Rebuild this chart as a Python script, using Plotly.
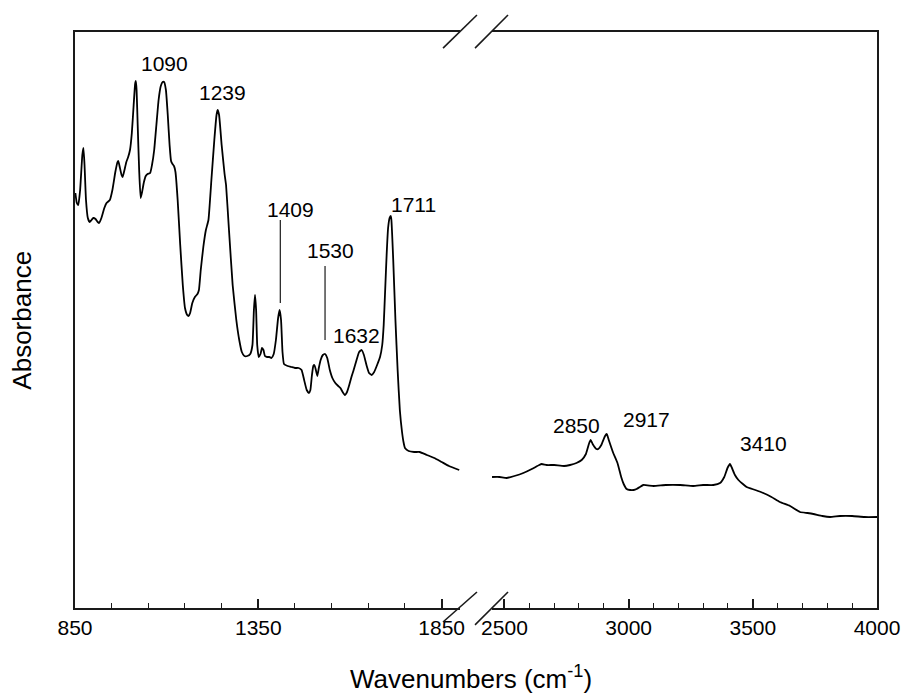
import plotly.graph_objects as go

# FTIR spectrum, fingerprint / carbonyl region (cm-1) and absorbance (a.u.)
wn_low = [851, 855, 859, 864, 870, 873, 876, 880, 885, 890, 895, 900, 906, 912, 916,
          922, 930, 936, 945, 952, 960, 966, 968, 972, 977, 980, 985, 990, 995, 1000,
          1005, 1010, 1014, 1016, 1018, 1021, 1025, 1029, 1033, 1038, 1043, 1048, 1055,
          1060, 1066, 1072, 1078, 1084, 1089, 1093, 1098, 1103, 1108, 1112, 1116, 1120,
          1124, 1130, 1137, 1144, 1150, 1156, 1160, 1164, 1170, 1177, 1184, 1188, 1193,
          1200, 1207, 1214, 1222, 1230, 1236, 1239, 1243, 1250, 1258, 1262, 1270, 1280,
          1290, 1298, 1305, 1312, 1320, 1328, 1334, 1338, 1341, 1344, 1347, 1351, 1356,
          1360, 1364, 1368, 1374, 1380, 1386, 1392, 1398, 1404, 1408, 1412, 1416, 1420,
          1430, 1440, 1450, 1460, 1468, 1475, 1482, 1488, 1492, 1496, 1500, 1503, 1507,
          1511, 1515, 1520, 1526, 1532, 1538, 1545, 1552, 1560, 1568, 1574, 1580, 1586,
          1592, 1598, 1604, 1610, 1618, 1625, 1632, 1638, 1645, 1652, 1659, 1666, 1674,
          1682, 1688, 1692, 1696, 1700, 1704, 1708, 1711, 1713, 1718, 1724, 1730, 1736,
          1742, 1746, 1750, 1760, 1775, 1790, 1810, 1830, 1850, 1870, 1898]
abs_low = [0.415, 0.405, 0.403, 0.418, 0.453, 0.460, 0.443, 0.408, 0.390, 0.386, 0.388,
           0.390, 0.389, 0.386, 0.385, 0.390, 0.400, 0.405, 0.408, 0.418, 0.436, 0.446,
           0.447, 0.441, 0.433, 0.431, 0.438, 0.446, 0.451, 0.458, 0.475, 0.503, 0.524,
           0.527, 0.518, 0.483, 0.438, 0.410, 0.416, 0.426, 0.432, 0.434, 0.435, 0.443,
           0.458, 0.483, 0.508, 0.522, 0.526, 0.526, 0.518, 0.493, 0.463, 0.447, 0.444,
           0.442, 0.436, 0.408, 0.363, 0.323, 0.300, 0.293, 0.292, 0.295, 0.305, 0.311,
           0.314, 0.318, 0.338, 0.361, 0.378, 0.388, 0.428, 0.468, 0.493, 0.498, 0.493,
           0.463, 0.434, 0.423, 0.378, 0.323, 0.288, 0.268, 0.256, 0.252, 0.252, 0.254,
           0.263, 0.298, 0.313, 0.298, 0.263, 0.251, 0.254, 0.260, 0.258, 0.252, 0.251,
           0.251, 0.250, 0.254, 0.268, 0.290, 0.298, 0.288, 0.256, 0.244, 0.242, 0.241,
           0.240, 0.240, 0.238, 0.228, 0.218, 0.215, 0.218, 0.232, 0.242, 0.243, 0.238,
           0.232, 0.240, 0.248, 0.253, 0.254, 0.250, 0.238, 0.230, 0.225, 0.222, 0.220,
           0.216, 0.213, 0.216, 0.223, 0.231, 0.238, 0.248, 0.256, 0.258, 0.253, 0.243,
           0.235, 0.233, 0.236, 0.243, 0.251, 0.263, 0.283, 0.318, 0.353, 0.380, 0.390,
           0.392, 0.388, 0.348, 0.288, 0.238, 0.198, 0.176, 0.166, 0.160, 0.157, 0.156,
           0.156, 0.153, 0.150, 0.146, 0.142, 0.138]

# C-H / O-H stretching region
wn_high = [2450, 2480, 2509, 2540, 2576, 2610, 2640, 2650, 2670, 2700, 2740, 2764, 2790,
           2811, 2828, 2840, 2847, 2855, 2870, 2878, 2890, 2905, 2912, 2920, 2938, 2955,
           2970, 2980, 2992, 3006, 3020, 3032, 3045, 3059, 3100, 3150, 3207, 3260, 3300,
           3341, 3368, 3385, 3398, 3408, 3416, 3428, 3442, 3460, 3475, 3510, 3542, 3575,
           3609, 3650, 3690, 3720, 3744, 3780, 3811, 3851, 3900, 3950, 4000]
abs_high = [0.131, 0.131, 0.130, 0.132, 0.135, 0.139, 0.143, 0.144, 0.143, 0.143, 0.142,
            0.143, 0.145, 0.148, 0.154, 0.164, 0.168, 0.164, 0.159, 0.159, 0.163, 0.172,
            0.174, 0.168, 0.155, 0.145, 0.131, 0.124, 0.119, 0.118, 0.118, 0.119, 0.121,
            0.123, 0.122, 0.123, 0.123, 0.122, 0.123, 0.123, 0.125, 0.131, 0.140, 0.144,
            0.140, 0.133, 0.128, 0.124, 0.121, 0.118, 0.115, 0.111, 0.106, 0.102, 0.096,
            0.095, 0.094, 0.092, 0.091, 0.092, 0.092, 0.091, 0.091]

# Peak labels: text, label position (wavenumber, absorbance), axis pair
peak_text = ["1090", "1239", "1409", "1530", "1632", "1711", "2850", "2917", "3410"]
peak_lx = [1095, 1253, 1438, 1547, 1618, 1773, 2791, 3073, 3542]
peak_ly = [0.545, 0.516, 0.399, 0.358, 0.273, 0.404, 0.183, 0.189, 0.165]
peak_ax = ["1", "1", "1", "1", "1", "1", "2", "2", "2"]

# Leader lines for the weaker bands: wavenumber, top and bottom absorbance
leader_wn = [1410, 1532]
leader_top = [0.388, 0.342]
leader_bot = [0.305, 0.268]

low_ticks = [850, 1350, 1850]
low_minor = [950, 1050, 1150, 1250, 1450, 1550, 1650, 1750]
high_ticks = [2500, 3000, 3500, 4000]
high_minor = [2600, 2700, 2800, 2900, 3100, 3200, 3300, 3400, 3600, 3700, 3800, 3900]

FONT = "Liberation Sans, Arial, sans-serif"
INK = "#1a1a1a"

fig = go.Figure()
line_style = dict(color="black", width=1.8, shape="spline", smoothing=0.4)
fig.add_trace(go.Scatter(x=wn_low, y=abs_low, mode="lines", line=line_style,
                         xaxis="x", yaxis="y", showlegend=False))
fig.add_trace(go.Scatter(x=wn_high, y=abs_high, mode="lines", line=line_style,
                         xaxis="x2", yaxis="y2", showlegend=False))

x_common = dict(showline=True, linecolor=INK, linewidth=1.6, mirror=True,
                showgrid=False, zeroline=False, ticks="inside", ticklen=9,
                tickwidth=2.2, tickcolor=INK, automargin=False,
                tickfont=dict(family=FONT, size=21, color="black"))
y_common = dict(domain=[0, 1], range=[0, 0.576], showline=True, linecolor=INK,
                linewidth=1.6, showticklabels=False, ticks="", showgrid=False,
                zeroline=False, automargin=False)
fig.update_layout(
    width=904, height=698,
    margin=dict(l=75, r=27, t=32, b=90, autoexpand=False),
    paper_bgcolor="white", plot_bgcolor="white",
    xaxis=dict(domain=[0, 0.48], range=[850, 1900], anchor="y",
               tickmode="array", tickvals=low_ticks,
               minor=dict(ticks="inside", ticklen=5, tickwidth=1.2, tickcolor=INK,
                          tickmode="array", tickvals=low_minor),
               **x_common),
    xaxis2=dict(domain=[0.52, 1], range=[2450, 4000], anchor="y2",
                tickmode="array", tickvals=high_ticks,
                minor=dict(ticks="inside", ticklen=5, tickwidth=1.2, tickcolor=INK,
                           tickmode="array", tickvals=high_minor),
                **x_common),
    yaxis=dict(anchor="x", **y_common),
    yaxis2=dict(anchor="x2", side="right", **y_common),
)

annotations = []
for t, lx, ly, ax in zip(peak_text, peak_lx, peak_ly, peak_ax):
    annotations.append(dict(text=t, x=lx, y=ly, xref="x" if ax == "1" else "x2",
                            yref="y" if ax == "1" else "y2", showarrow=False,
                            xanchor="center", yanchor="middle",
                            font=dict(family=FONT, size=21, color="black")))
annotations.append(dict(text="Absorbance", x=-0.066, y=0.499, xref="paper", yref="paper",
                        textangle=-90, showarrow=False, xanchor="center", yanchor="middle",
                        font=dict(family=FONT, size=26, color="black")))
annotations.append(dict(text="Wavenumbers (cm<sup>-1</sup>)", x=0.494, y=-0.1215,
                        xref="paper", yref="paper", showarrow=False,
                        xanchor="center", yanchor="middle",
                        font=dict(family=FONT, size=26, color="black")))
fig.update_layout(annotations=annotations)

shapes = []
for w, top, bot in zip(leader_wn, leader_top, leader_bot):
    shapes.append(dict(type="line", xref="x", yref="y", x0=w, x1=w, y0=bot, y1=top,
                       line=dict(color=INK, width=1.2)))
# axis-break slashes on top and bottom frame lines
for y0, y1 in [(0.972, 1.0295), (-0.0243, 0.0278)]:
    for x0, x1 in [(0.4589, 0.5012), (0.4988, 0.5399)]:
        shapes.append(dict(type="line", xref="paper", yref="paper", x0=x0, x1=x1,
                           y0=y0 - (0.005 if (y0 < 0 and x0 > 0.48) else 0), y1=y1,
                           line=dict(color=INK, width=1.6)))
fig.update_layout(shapes=shapes)

fig.write_html("out.html")
